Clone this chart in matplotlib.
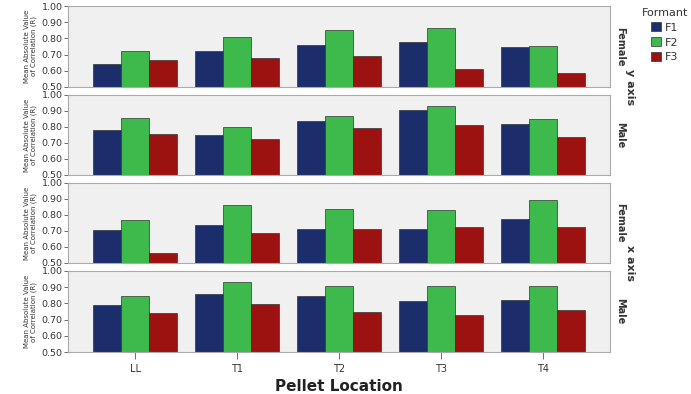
import matplotlib.pyplot as plt
from matplotlib.patches import Patch
import numpy as np

# data
locations = ['LL', 'T1', 'T2', 'T3', 'T4']
formants = ['F1', 'F2', 'F3']
panel_sex = ['Female', 'Male', 'Female', 'Male']

y_female = [[0.64, 0.72, 0.76, 0.78, 0.75],
            [0.725, 0.81, 0.85, 0.865, 0.755],
            [0.665, 0.68, 0.69, 0.61, 0.585]]
y_male = [[0.78, 0.75, 0.84, 0.905, 0.82],
          [0.855, 0.80, 0.87, 0.93, 0.85],
          [0.755, 0.725, 0.795, 0.815, 0.74]]
x_female = [[0.705, 0.74, 0.71, 0.71, 0.775],
            [0.77, 0.865, 0.84, 0.83, 0.895],
            [0.56, 0.69, 0.71, 0.725, 0.725]]
x_male = [[0.79, 0.855, 0.845, 0.815, 0.82],
          [0.845, 0.935, 0.905, 0.905, 0.91],
          [0.74, 0.795, 0.75, 0.73, 0.76]]

panels = [y_female, y_male, x_female, x_male]
colors = ['#1c2d6b', '#3dba4b', '#9c1210']

fig = plt.figure(figsize=(6.91, 3.94), dpi=100)

W, H = 691, 394
left, right = 68, 610
tops = [6, 95, 183, 271]
bottoms = [87, 175, 263, 352]

x = np.arange(len(locations))
bw = 0.275

for i, data in enumerate(panels):
    ax = fig.add_axes([left / W, 1 - bottoms[i] / H, (right - left) / W,
                       (bottoms[i] - tops[i]) / H])
    ax.set_facecolor('#f0f0f0')
    for j, vals in enumerate(data):
        ax.bar(x + (j - 1) * bw, np.array(vals) - 0.5, bw, bottom=0.5,
               color=colors[j], edgecolor='#333333', linewidth=0.5)
    ax.set_ylim(0.5, 1.0)
    ax.set_xlim(-0.66, 4.66)
    ax.set_yticks([0.5, 0.6, 0.7, 0.8, 0.9, 1.0])
    ax.set_yticklabels(['0.50', '0.60', '0.70', '0.80', '0.90', '1.00'])
    ax.tick_params(axis='y', labelsize=6.8, length=3, width=0.6, pad=1,
                   colors='#555555', labelcolor='#333333')
    for s in ax.spines.values():
        s.set_color('#aaaaaa')
        s.set_linewidth(0.8)
    ax.set_ylabel('Mean Absolute Value\nof Correlation (R)', fontsize=5,
                  labelpad=3, color='#333333')
    if i < 3:
        ax.set_xticks([])
    else:
        ax.set_xticks(x)
        ax.set_xticklabels(locations)
        ax.tick_params(axis='x', labelsize=7, length=5, width=0.6,
                       colors='#555555', labelcolor='#333333', pad=4)
        ax.set_xlabel('Pellet Location', fontsize=11, fontweight='bold',
                      color='#222222', labelpad=3)
    ax.text(1.01, 0.5, panel_sex[i], transform=ax.transAxes, rotation=270,
            fontsize=7, fontweight='bold', va='center', ha='left',
            color='#333333')

fig.text(630 / W, 1 - 87 / H, 'y axis', rotation=270, fontsize=8,
         fontweight='bold', va='center', ha='center', color='#333333')
fig.text(630 / W, 1 - 263 / H, 'x axis', rotation=270, fontsize=8,
         fontweight='bold', va='center', ha='center', color='#333333')

handles = [Patch(facecolor=c, edgecolor='#333333', linewidth=0.5) for c in colors]
leg = fig.legend(handles, formants, title='Formant', loc='upper left',
                 bbox_to_anchor=(634 / W, 1.0), frameon=False, fontsize=8,
                 title_fontsize=8, handlelength=0.9, handleheight=0.9,
                 handletextpad=0.35, labelspacing=0.4, borderpad=0.2)
leg.get_title().set_color('#333333')
for t in leg.get_texts():
    t.set_color('#333333')

fig.savefig('out.png', dpi=100)
